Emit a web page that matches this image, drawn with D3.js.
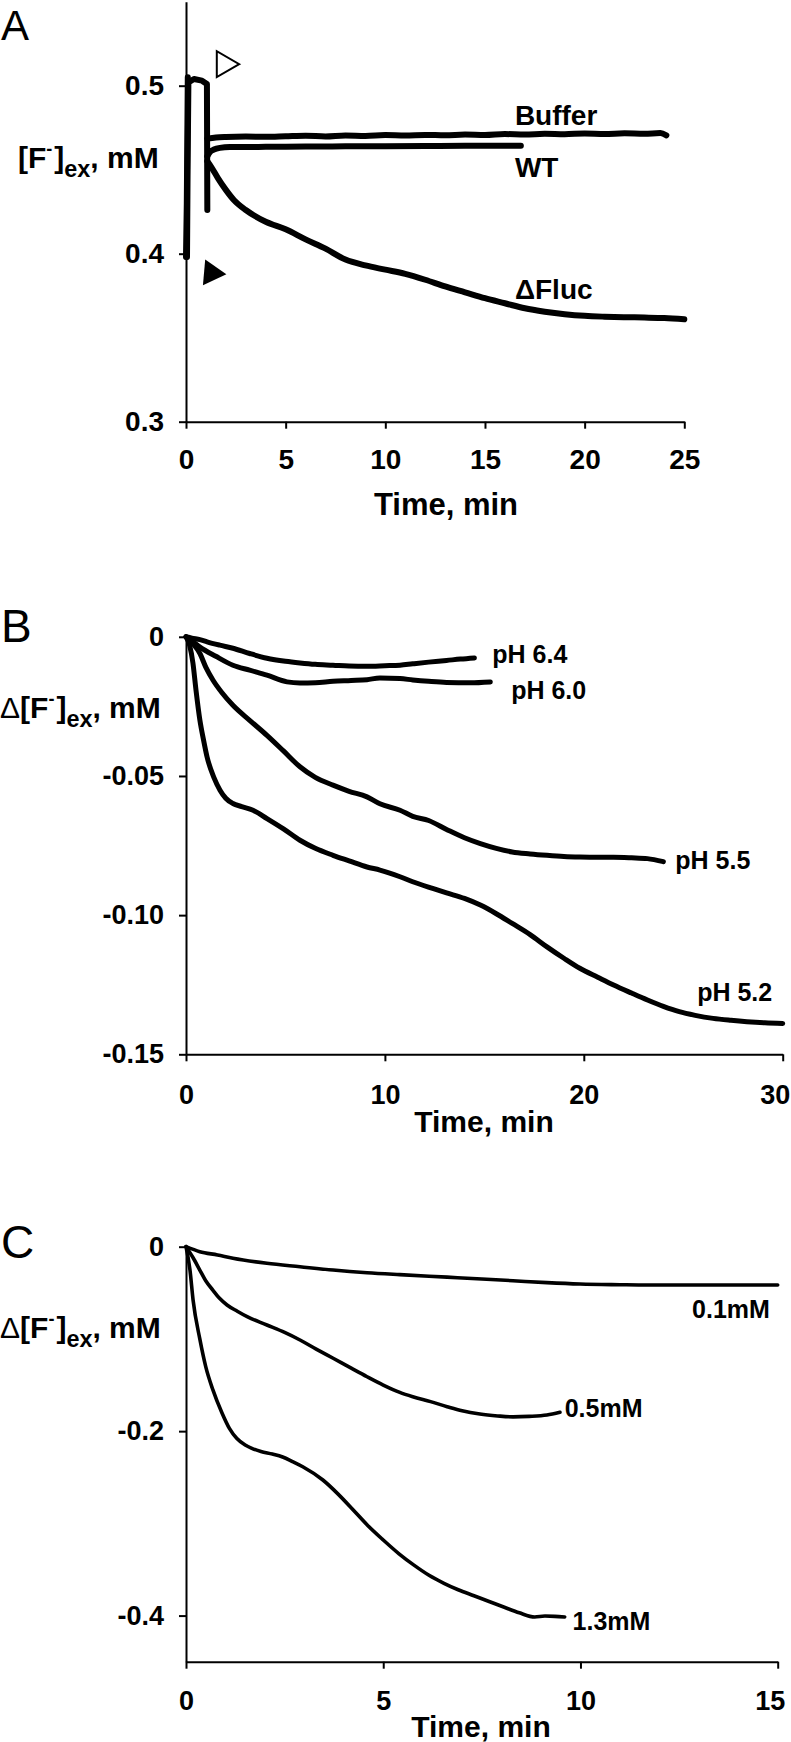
<!DOCTYPE html>
<html>
<head>
<meta charset="utf-8">
<script src="https://cdn.jsdelivr.net/npm/d3@7"></script>
<style>
  body { margin: 0; background: #fff; }
  svg { display: block; font-family: "Liberation Sans", Arial, sans-serif; }
  .axis path, .axis line { stroke: #000; stroke-width: 2; }
  .axis text { fill: #000; font-weight: bold; }
  .trace { fill: none; stroke: #000; stroke-linecap: round; stroke-linejoin: round; }
</style>
</head>
<body>
<svg id="chart"></svg>
<script>
const width = 791;
const height = 1742;

// ---- panel A : [F-]ex (mM) vs time (min)
const spikeA = [[0.05, 0.398], [0.08, 0.45], [0.12, 0.502], [0.4, 0.504], [0.8, 0.503], [1.05, 0.501], [1.07, 0.426]];
const riseA = [[0.0, 0.398], [0.04, 0.43], [0.09, 0.505]];
const bufferA = [[1.07, 0.4685], [1.5, 0.4692], [2, 0.4695], [3, 0.4697], [4, 0.4696], [5, 0.4699], [6, 0.4702], [7, 0.4698],
  [8, 0.4704], [9, 0.4701], [10, 0.4706], [11, 0.4703], [12, 0.4707], [13, 0.4705], [14, 0.4709], [15, 0.4706], [16, 0.4712],
  [17, 0.4709], [18, 0.4714], [19, 0.4711], [20, 0.4716], [21, 0.4712], [22, 0.4717], [23, 0.4714], [23.8, 0.4718], [24.1, 0.4705]];
const wtA = [[1.07, 0.458], [1.2, 0.4605], [1.4, 0.462], [1.7, 0.463], [2.2, 0.4635], [4, 0.4636], [6, 0.4638], [8, 0.4639],
  [10, 0.464], [12, 0.4641], [14, 0.4642], [16, 0.4642], [16.8, 0.4643]];
const flucA = [[1.07, 0.455], [1.3, 0.451], [1.6, 0.445], [2, 0.438], [2.4, 0.432], [3, 0.426], [4, 0.419], [5, 0.4145],
  [6, 0.4085], [7, 0.403], [8, 0.3965], [9, 0.393], [10, 0.3905], [11, 0.388], [12, 0.3845], [13, 0.3805], [14, 0.377],
  [15, 0.3735], [16, 0.3705], [17, 0.3675], [18, 0.3655], [19, 0.364], [20, 0.363], [21, 0.3625], [22, 0.3622], [23, 0.362],
  [24, 0.3617], [25, 0.361]];
const labelsA = [["Buffer", 16.5, 0.4765], ["WT", 16.5, 0.4455], ["\u0394Fluc", 16.5, 0.373]];
const xTicksA = [0, 5, 10, 15, 20, 25];
const yTicksA = [0.3, 0.4, 0.5];

// ---- panel B : pH series
const ph64 = [[0, 0], [0.3, -0.0005], [0.7, -0.001], [1.06, -0.0018], [1.7, -0.003], [2.36, -0.0041], [3.2, -0.006], [4.07, -0.0077],
  [5, -0.0088], [5.73, -0.0094], [6.5, -0.0099], [7.39, -0.0102], [8.2, -0.0105], [9.1, -0.0106], [10, -0.0104], [10.76, -0.0102],
  [11.4, -0.0097], [12.2, -0.0091], [13.1, -0.0085], [13.8, -0.008], [14.5, -0.0076]];
const ph60 = [[0, 0], [0.3, -0.0015], [0.7, -0.0037], [1.5, -0.007], [2.36, -0.0102], [3.2, -0.012], [4.07, -0.0138], [5.08, -0.0162],
  [5.73, -0.0166], [6.5, -0.0165], [7.39, -0.016], [8.3, -0.0157], [9.1, -0.0154], [9.75, -0.0148], [10.76, -0.015], [11.4, -0.0155],
  [12.2, -0.016], [13.1, -0.0164], [14.3, -0.0165], [15.3, -0.0162]];
const ph55 = [[0, 0], [0.35, -0.0025], [0.7, -0.006], [1.0, -0.011], [1.36, -0.0156], [1.8, -0.02], [2.36, -0.0246], [3.2, -0.03],
  [4.07, -0.0354], [4.9, -0.041], [5.73, -0.0467], [6.5, -0.0505], [7.39, -0.0533], [8.2, -0.0555], [9.1, -0.0575], [9.75, -0.06],
  [10.76, -0.0623], [11.4, -0.0645], [12.2, -0.066], [13.1, -0.0692], [14, -0.0722], [14.8, -0.0743], [15.6, -0.076], [16.4, -0.0773],
  [17.3, -0.078], [18.15, -0.0785], [19, -0.0789], [19.8, -0.0791], [20.7, -0.0792], [21.5, -0.0792], [22.4, -0.0794], [23.2, -0.0797],
  [24, -0.0808]];
const ph52 = [[0, 0], [0.18, -0.003], [0.35, -0.0095], [0.5, -0.019], [0.7, -0.03], [0.88, -0.037], [1.06, -0.0432], [1.4, -0.0505],
  [1.71, -0.0551], [2.0, -0.058], [2.36, -0.0599], [2.8, -0.061], [3.37, -0.0623], [4.07, -0.0653], [4.9, -0.069], [5.73, -0.0731],
  [6.5, -0.076], [7.39, -0.0785], [8.2, -0.0805], [9.1, -0.0827], [9.75, -0.0838], [10.76, -0.0862], [11.4, -0.088], [12.4, -0.0904],
  [13.1, -0.092], [14, -0.094], [14.8, -0.0964], [15.6, -0.0995], [16.4, -0.103], [17.3, -0.107], [18.15, -0.1114], [19, -0.1155],
  [19.8, -0.1191], [20.7, -0.1223], [21.5, -0.1251], [22.4, -0.128], [23.2, -0.1305], [24, -0.1328], [24.8, -0.1347], [25.6, -0.136],
  [26.5, -0.1371], [27.4, -0.1378], [28.2, -0.1383], [29.1, -0.1387], [30, -0.1389]];
const labelsB = [["pH 6.4", 15.4, -0.0095], ["pH 6.0", 16.35, -0.0225], ["pH 5.5", 24.6, -0.0834], ["pH 5.2", 25.7, -0.131]];
const xTicksB = [0, 10, 20, 30];
const yTicksB = [0, -0.05, -0.10, -0.15];

// ---- panel C : fluoride concentration series
const c01 = [[0, 0], [0.35, -0.0054], [0.8, -0.009], [1.19, -0.0125], [2.05, -0.018], [2.89, -0.0217], [3.73, -0.0253], [4.59, -0.0282],
  [5.42, -0.0303], [6.62, -0.033], [7.5, -0.035], [8.29, -0.0369], [9.15, -0.039], [9.99, -0.0405], [11, -0.0412], [11.7, -0.0415],
  [13.36, -0.0415], [15, -0.0415]];
const c05 = [[0, 0], [0.18, -0.012], [0.35, -0.0253], [0.5, -0.037], [0.68, -0.047], [0.85, -0.056], [1.04, -0.0632], [1.3, -0.07],
  [1.55, -0.0759], [2.05, -0.0849], [2.5, -0.093], [2.89, -0.1012], [3.3, -0.111], [3.73, -0.121], [4.2, -0.132], [4.59, -0.141],
  [5.0, -0.15], [5.42, -0.158], [5.75, -0.1627], [6.2, -0.168], [6.62, -0.1735], [7.0, -0.178], [7.45, -0.1815], [7.9, -0.1835],
  [8.29, -0.1845], [8.7, -0.184], [9.15, -0.1825], [9.48, -0.1795]];
const c13 = [[0, 0], [0.1, -0.025], [0.18, -0.058], [0.35, -0.1], [0.5, -0.13], [0.68, -0.155], [0.91, -0.18], [1.1, -0.197],
  [1.29, -0.208], [1.5, -0.215], [1.67, -0.2186], [1.9, -0.222], [2.19, -0.2248], [2.45, -0.228], [2.7, -0.233], [2.96, -0.2386],
  [3.47, -0.253], [3.85, -0.268], [4.24, -0.2855], [4.6, -0.302], [5.0, -0.318], [5.4, -0.333], [5.77, -0.345], [6.15, -0.356],
  [6.54, -0.365], [6.9, -0.372], [7.3, -0.3785], [7.7, -0.385], [8.07, -0.391], [8.45, -0.397], [8.84, -0.4015], [9.1, -0.4005],
  [9.35, -0.4008], [9.6, -0.4015]];
const labelsC = [["0.1mM", 12.83, -0.0775], ["0.5mM", 9.6, -0.185], ["1.3mM", 9.8, -0.416]];
const xTicksC = [0, 5, 10, 15];
const yTicksC = [0, -0.2, -0.4];

const svg = d3.select("#chart").attr("width", width).attr("height", height);

// plain hyphen for negatives, bare "0" at the origin
const fmtDec = n => d => d === 0 ? "0" : d3.format(`.${n}f`)(d).replace("\u2212", "-");

function drawAxes(x, y, xTicks, yTicks, o) {
  const g = svg.append("g");
  const xg = g.append("g").attr("class", "axis")
    .attr("transform", `translate(0,${y.range()[0]})`)
    .call(d3.axisBottom(x).tickValues(xTicks).tickSize(7).tickSizeOuter(0).tickPadding(o.xPad).tickFormat(d3.format("d")));
  xg.selectAll("text").attr("font-size", o.tickSize);
  // last label sits a little left of its tick in the original
  if (o.lastShift) xg.selectAll(".tick:last-of-type text").attr("dx", o.lastShift);
  g.append("g").attr("class", "axis")
    .attr("transform", `translate(${x.range()[0]},0)`)
    .call(d3.axisLeft(y).tickValues(yTicks).tickSize(7).tickSizeOuter(0).tickPadding(15).tickFormat(o.yFmt))
    .selectAll("text").attr("font-size", o.tickSize);
  g.selectAll(".axis").attr("font-family", null);
}

function drawTrace(x, y, data, w, curve) {
  const line = d3.line().x(d => x(d[0])).y(d => y(d[1])).curve(curve || d3.curveMonotoneX);
  svg.append("path").attr("class", "trace").attr("stroke-width", w).attr("d", line(data));
}

function drawLabels(x, y, labels, size) {
  svg.append("g").selectAll("text").data(labels).join("text")
    .attr("x", d => x(d[1])).attr("y", d => y(d[2]))
    .attr("font-size", size).attr("font-weight", "bold").text(d => d[0]);
}

function fTitle(x, y, size, delta) {
  const t = svg.append("text").attr("x", x).attr("y", y).attr("font-size", size).attr("font-weight", "bold");
  if (delta) t.append("tspan").attr("font-weight", "normal").text("\u0394");
  t.append("tspan").text("[F");
  t.append("tspan").attr("font-size", size * 0.6).attr("dy", -size * 0.42).text("-");
  t.append("tspan").attr("dy", size * 0.42).attr("dx", 2).text("]");
  t.append("tspan").attr("font-size", size * 0.78).attr("dy", size * 0.3).text("ex");
  t.append("tspan").attr("dy", -size * 0.3).text(", mM");
}

function xTitle(x, y, size) {
  svg.append("text").attr("x", x).attr("y", y).attr("text-anchor", "middle")
    .attr("font-size", size).attr("font-weight", "bold").text("Time, min");
}

function panelLetter(txt, y, size) {
  svg.append("text").attr("x", 1).attr("y", y).attr("font-size", size).text(txt);
}

// ---- panel A
const xA = d3.scaleLinear().domain([0, 25]).range([186, 684.3]);
const yA = d3.scaleLinear().domain([0.3, 0.55]).range([421.7, 1.7]);
drawAxes(xA, yA, xTicksA, yTicksA, { xPad: 20, tickSize: 28, yFmt: d3.format(".1f") });
drawTrace(xA, yA, riseA, 6, d3.curveLinear);
drawTrace(xA, yA, spikeA, 6, d3.curveLinear);
drawTrace(xA, yA, bufferA, 6);
drawTrace(xA, yA, wtA, 6);
drawTrace(xA, yA, flucA, 6);
drawLabels(xA, yA, labelsA, 28);
const tri = d3.symbol().type(d3.symbolTriangle).size(290);
svg.append("path").attr("d", tri()).attr("fill", "#fff").attr("stroke", "#000").attr("stroke-width", 2)
  .attr("transform", `translate(${xA(1.92)},${yA(0.5128)}) rotate(90)`);
svg.append("path").attr("d", tri()).attr("fill", "#000")
  .attr("transform", `translate(${xA(1.28)},${yA(0.3885)}) rotate(95)`);
fTitle(18, 168, 30, false);
xTitle(446, 515, 31);
panelLetter("A", 40, 42);

// ---- panel B
const xB = d3.scaleLinear().domain([0, 30]).range([186, 782.7]);
const yB = d3.scaleLinear().domain([-0.15, 0]).range([1054.3, 636.8]);
drawAxes(xB, yB, xTicksB, yTicksB, { xPad: 24, tickSize: 27, yFmt: fmtDec(2), lastShift: -8 });
[ph64, ph60, ph55, ph52].forEach(s => drawTrace(xB, yB, s, 5));
drawLabels(xB, yB, labelsB, 25);
fTitle(0, 718, 30, true);
xTitle(484, 1132, 30);
panelLetter("B", 642, 46);

// ---- panel C
const xC = d3.scaleLinear().domain([0, 15]).range([186, 777.7]);
const yC = d3.scaleLinear().domain([-0.45, 0]).range([1661.7, 1246.7]);
drawAxes(xC, yC, xTicksC, yTicksC, { xPad: 22, tickSize: 27, yFmt: fmtDec(1), lastShift: -8 });
[c01, c05, c13].forEach(s => drawTrace(xC, yC, s, 3.6));
drawLabels(xC, yC, labelsC, 25);
fTitle(0, 1338, 30, true);
xTitle(481, 1737, 30);
panelLetter("C", 1258, 46);
</script>
</body>
</html>
